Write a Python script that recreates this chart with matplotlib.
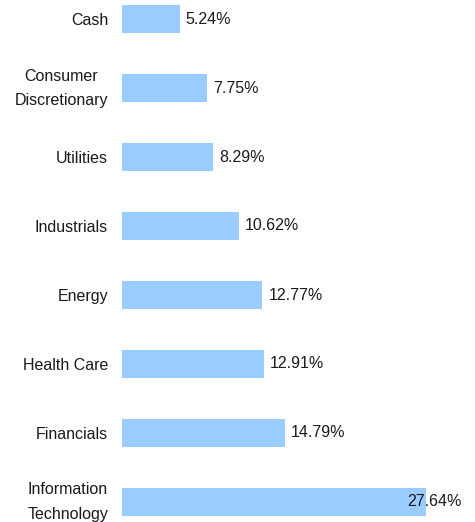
import matplotlib
matplotlib.use("Agg")
import matplotlib.pyplot as plt

categories = ["Cash", "Consumer\nDiscretionary", "Utilities", "Industrials",
              "Energy", "Health Care", "Financials", "Information\nTechnology"]
values = [5.24, 7.75, 8.29, 10.62, 12.77, 12.91, 14.79, 27.64]
value_labels = ["5.24%", "7.75%", "8.29%", "10.62%", "12.77%", "12.91%", "14.79%", "27.64%"]

plt.rcParams['font.family'] = ['Liberation Sans', 'DejaVu Sans']

W, H = 475, 522
fig = plt.figure(figsize=(W / 100, H / 100), dpi=100)
ax_left = 122 / W
ax = fig.add_axes([ax_left, 0, 1 - ax_left, 1])

px_per_unit = 11.0
xmax = (W - 122) / px_per_unit
ax.set_xlim(0, xmax)
ypos = list(range(len(categories)))
ax.set_ylim((H - 19) / 69, -19 / 69)

ax.barh(ypos, values, height=0.4, color="#99ccff")

fs = 11.5
offset = 6 / px_per_unit
for y, v, lab in zip(ypos, values, value_labels):
    x = v + offset
    if x + 56 / px_per_unit > xmax:
        ax.text(xmax - 13 / px_per_unit, y, lab, ha="right", va="center",
                fontsize=fs, color="#1a1a1a")
    else:
        ax.text(x, y, lab, ha="left", va="center", fontsize=fs, color="#1a1a1a")

ax.set_yticks(ypos)
ticklabels = ax.set_yticklabels(categories, fontsize=fs, color="#1a1a1a", linespacing=1.75,
                                multialignment="center")
for t in ticklabels:
    if "\n" in t.get_text():
        t.set_va("center")
ax.tick_params(axis="y", length=0, pad=10)
ax.set_xticks([])
for s in ax.spines.values():
    s.set_visible(False)

fig.savefig("out.png", dpi=100)
